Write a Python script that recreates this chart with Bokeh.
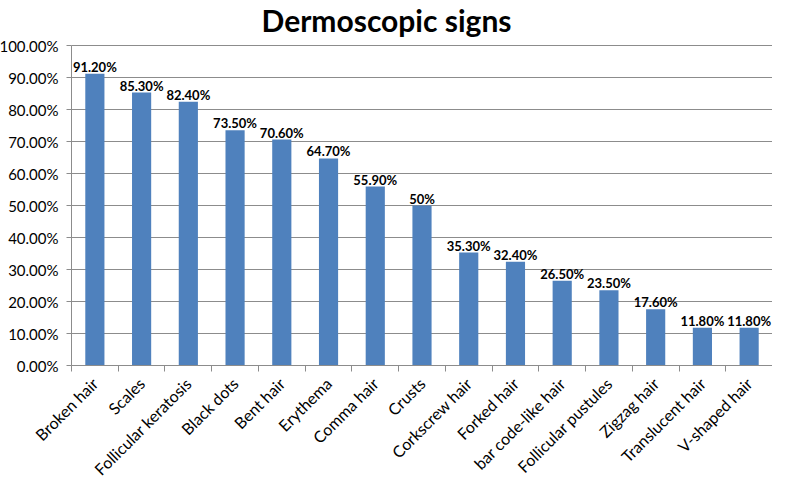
import math
from bokeh.plotting import figure
from bokeh.models import (ColumnDataSource, Range1d, FixedTicker, NumeralTickFormatter,
                          LinearAxis)
from bokeh.core.properties import value
from bokeh.embed import file_html
from bokeh.resources import INLINE

title_text = "Dermoscopic signs"
categories = ["Broken hair", "Scales", "Follicular keratosis", "Black dots", "Bent hair",
              "Erythema", "Comma hair", "Crusts", "Corkscrew hair", "Forked hair",
              "bar code-like hair", "Follicular pustules", "Zigzag hair", "Translucent hair",
              "V-shaped hair"]
values = [0.912, 0.853, 0.824, 0.735, 0.706, 0.647, 0.559, 0.50, 0.353, 0.324,
          0.265, 0.235, 0.176, 0.118, 0.118]
value_labels = ["91.20%", "85.30%", "82.40%", "73.50%", "70.60%", "64.70%", "55.90%", "50%",
                "35.30%", "32.40%", "26.50%", "23.50%", "17.60%", "11.80%", "11.80%"]
y_ticks = [i / 10 for i in range(11)]

FONT = "Lato"
GRID = "#8c8c8c"
BAR = "#4f81bd"

n = len(categories)
centers = [i + 0.5 for i in range(n)]
bounds = [float(i) for i in range(n + 1)]

# layout (pixels): the frame fills the canvas; the plot area sits inside it
W, H = 772, 482
LEFT_PX, TOP_PX, AXIS_PX, BOTTOM_PX = 71, 45, 320, 117
x_per_px = n / (W - LEFT_PX)
x_start = -LEFT_PX * x_per_px
y_end = 1 + TOP_PX / AXIS_PX
y_start = -BOTTOM_PX / AXIS_PX

src = ColumnDataSource(dict(x=centers, top=values, lab=value_labels))

p = figure(width=W, height=H, output_backend="svg", toolbar_location=None,
           x_range=Range1d(x_start, n), y_range=Range1d(y_start, y_end),
           min_border_left=0, min_border_right=0, min_border_top=0, min_border_bottom=0,
           x_axis_location=None, y_axis_location=None)
p.outline_line_color = None
p.background_fill_color = "white"
p.border_fill_color = "white"

# y axis at x = 0
yax = LinearAxis(ticker=FixedTicker(ticks=y_ticks),
                 formatter=NumeralTickFormatter(format="0.00%"),
                 bounds=(0, 1), fixed_location=0)
yax.axis_line_color = GRID
yax.major_tick_line_color = GRID
yax.major_tick_out = 5
yax.major_tick_in = 0
yax.minor_tick_line_color = None
yax.major_label_text_font = FONT
yax.major_label_text_font_size = "15px"
yax.major_label_text_color = "#000000"
yax.major_label_standoff = 8
p.add_layout(yax, "left")

# category axis at 0 %, ticks between categories
xax = LinearAxis(ticker=FixedTicker(ticks=centers, minor_ticks=bounds),
                 major_label_overrides={c: lab for c, lab in zip(centers, categories)},
                 bounds=(0, n), fixed_location=0)
xax.axis_line_color = GRID
xax.major_tick_line_color = None
xax.major_tick_out = 0
xax.major_tick_in = 0
xax.minor_tick_line_color = GRID
xax.minor_tick_out = 6
xax.minor_tick_in = 0
xax.major_label_orientation = math.pi / 4
xax.major_label_text_font = FONT
xax.major_label_text_font_size = "16px"
xax.major_label_text_color = "#000000"
xax.major_label_standoff = 9
p.add_layout(xax, "below")

p.xgrid.visible = False
p.ygrid.ticker = FixedTicker(ticks=y_ticks)
p.ygrid.cross_bounds = (0, n)
p.ygrid.grid_line_color = GRID
p.ygrid.grid_line_width = 1

p.vbar(x="x", top="top", bottom=0, width=0.41, source=src, fill_color=BAR, line_color=None)

p.text(x="x", y="top", text="lab", source=src, text_align="center", text_baseline="bottom",
       text_font=value(FONT), text_font_size="13px", text_font_style="bold",
       text_color="#000000", y_offset=1)

# chart title, centred on the canvas
p.text(x=[(x_start + n) / 2], y=[y_end], text=[title_text], text_align="center",
       text_baseline="top", y_offset=1,
       text_font=value(FONT), text_font_size="30px", text_font_style="bold",
       text_color="#000000")

open("out.html", "w").write(file_html(p, INLINE))
